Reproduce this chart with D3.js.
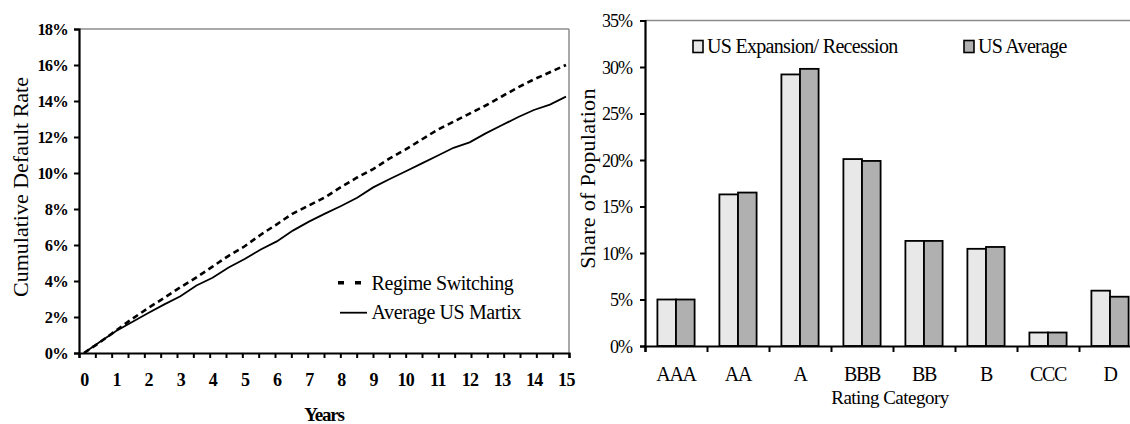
<!DOCTYPE html>
<html>
<head>
<meta charset="utf-8">
<script src="https://cdn.jsdelivr.net/npm/d3@7"></script>
<style>
  body { margin: 0; background: #fff; }
  svg { display: block; font-family: "Liberation Serif", "Times New Roman", serif; }
</style>
</head>
<body>
<svg id="chart" width="1130" height="424"></svg>
<script>
// ---------- Left chart data ----------
const years = [0, 0.5, 1, 1.5, 2, 2.5, 3, 3.5, 4, 4.5, 5, 5.5, 6, 6.5, 7, 7.5, 8, 8.5, 9, 9.5, 10, 10.5, 11, 11.5, 12, 12.5, 13, 13.5, 14, 14.5, 15];
const regimeSwitching = [0, 0.6, 1.25, 1.9, 2.5, 3.07, 3.65, 4.2, 4.8, 5.4, 5.93, 6.57, 7.15, 7.75, 8.2, 8.65, 9.22, 9.75, 10.22, 10.8, 11.3, 11.85, 12.4, 12.85, 13.3, 13.75, 14.25, 14.75, 15.2, 15.6, 16.0];
const averageUS = [0, 0.62, 1.22, 1.72, 2.22, 2.7, 3.15, 3.75, 4.18, 4.75, 5.22, 5.75, 6.2, 6.8, 7.3, 7.74, 8.17, 8.62, 9.2, 9.65, 10.08, 10.52, 10.96, 11.4, 11.7, 12.2, 12.65, 13.1, 13.5, 13.8, 14.24];
const yearLabels = [0, 1, 2, 3, 4, 5, 6, 7, 8, 9, 10, 11, 12, 13, 14, 15];
const leftYTicks = [0, 2, 4, 6, 8, 10, 12, 14, 16, 18];
const leftSeriesNames = ["Regime Switching", "Average US Martix"];

// ---------- Right chart data ----------
const ratings = ["AAA", "AA", "A", "BBB", "BB", "B", "CCC", "D"];
const usExpansionRecession = [5.0, 16.3, 29.2, 20.1, 11.3, 10.45, 1.45, 5.95];
const usAverage = [5.0, 16.5, 29.8, 19.9, 11.3, 10.65, 1.45, 5.3];
const rightYTicks = [0, 5, 10, 15, 20, 25, 30, 35];
const rightSeriesNames = ["US Expansion/ Recession", "US Average"];

const svg = d3.select("#chart");

// =================== LEFT CHART ===================
const L = { left: 79, right: 569, top: 29, bottom: 353 };
const yL = d3.scaleLinear().domain([0, 18]).range([L.bottom, L.top]);
const xL = d3.scaleLinear().domain([0, 15]).range([84, 566]);          // data + labels
const xTickL = d3.scaleLinear().domain([0, 30]).range([L.left, L.right]); // half-year tick marks

const gL = svg.append("g");

// frame (grey top & right)
gL.append("line").attr("x1", L.left).attr("x2", L.right).attr("y1", L.top).attr("y2", L.top)
  .attr("stroke", "#8c8c8c").attr("stroke-width", 1.5);
gL.append("line").attr("x1", L.right).attr("x2", L.right).attr("y1", L.top).attr("y2", L.bottom)
  .attr("stroke", "#8c8c8c").attr("stroke-width", 1.5);

// lines
const lineGen = (vals) => d3.line().x((d, i) => xL(years[i])).y(d => yL(d))(vals);
gL.append("path").attr("d", lineGen(averageUS)).attr("fill", "none")
  .attr("stroke", "#000").attr("stroke-width", 1.8);
gL.append("path").attr("d", lineGen(regimeSwitching)).attr("fill", "none")
  .attr("stroke", "#000").attr("stroke-width", 2.6).attr("stroke-dasharray", "6,4");

// y axis
const yAxisL = gL.append("g").attr("transform", `translate(${L.left},0)`)
  .call(d3.axisLeft(yL).tickValues(leftYTicks).tickSize(5).tickPadding(6).tickFormat(d => d + "%"));
yAxisL.select(".domain").attr("stroke", "#000").attr("stroke-width", 2.2);
yAxisL.selectAll(".tick line").attr("stroke", "#000").attr("stroke-width", 2);
yAxisL.selectAll(".tick text").attr("font-family", "Liberation Serif").attr("font-size", 16.5)
  .attr("font-weight", "bold").attr("letter-spacing", -0.8).attr("fill", "#000").attr("dy", "0.36em");

// x axis tick marks
const xTicksL = gL.append("g").attr("transform", `translate(0,${L.bottom})`)
  .call(d3.axisBottom(xTickL).tickValues(d3.range(0, 31)).tickSize(5).tickFormat(""));
xTicksL.select(".domain").attr("stroke", "#000").attr("stroke-width", 2.2);
xTicksL.selectAll(".tick line").attr("stroke", "#000").attr("stroke-width", 2);

// x labels
const xLabL = gL.append("g").attr("transform", `translate(0,${L.bottom})`)
  .call(d3.axisBottom(xL).tickValues(yearLabels).tickSize(0).tickPadding(20).tickFormat(d3.format("d")));
xLabL.select(".domain").remove();
xLabL.selectAll(".tick text").attr("font-family", "Liberation Serif").attr("font-size", 18)
  .attr("font-weight", "bold").attr("letter-spacing", -0.6).attr("fill", "#000");

// axis titles
gL.append("text").attr("transform", `translate(27.5,187) rotate(-90)`).attr("text-anchor", "middle")
  .attr("font-size", 22).attr("fill", "#000").text("Cumulative Default Rate");
gL.append("text").attr("x", 324).attr("y", 421).attr("text-anchor", "middle")
  .attr("font-size", 19).attr("font-weight", "bold").attr("letter-spacing", -1.2).attr("fill", "#000").text("Years");

// legend
const legL = gL.append("g");
legL.append("line").attr("x1", 338).attr("x2", 362).attr("y1", 282.7).attr("y2", 282.7)
  .attr("stroke", "#000").attr("stroke-width", 3.5).attr("stroke-dasharray", "6,11");
legL.append("text").attr("x", 371.5).attr("y", 289.5).attr("font-size", 20).attr("letter-spacing", -0.4)
  .attr("fill", "#000").text(leftSeriesNames[0]);
legL.append("line").attr("x1", 340).attr("x2", 367).attr("y1", 312.7).attr("y2", 312.7)
  .attr("stroke", "#000").attr("stroke-width", 1.8);
legL.append("text").attr("x", 371.5).attr("y", 319).attr("font-size", 20).attr("letter-spacing", -0.4)
  .attr("fill", "#000").text(leftSeriesNames[1]);

// =================== RIGHT CHART ===================
const R = { left: 645, right: 1141, top: 20.5, bottom: 346 };
const yR = d3.scaleLinear().domain([0, 35]).range([R.bottom, R.top]);
const xR = d3.scaleBand().domain(ratings).range([R.left, R.right]).paddingInner(0.4).paddingOuter(0.2);
const xSub = d3.scaleBand().domain([0, 1]).range([0, xR.bandwidth()]);
const xTickR = d3.scaleLinear().domain([0, ratings.length]).range([R.left, R.right]);
const fills = ["#e8e8e8", "#b0b0b0"];

const gR = svg.append("g");
gR.append("line").attr("x1", R.left).attr("x2", R.right).attr("y1", R.top).attr("y2", R.top)
  .attr("stroke", "#8c8c8c").attr("stroke-width", 1.5);
gR.append("line").attr("x1", R.right).attr("x2", R.right).attr("y1", R.top).attr("y2", R.bottom)
  .attr("stroke", "#8c8c8c").attr("stroke-width", 1.5);

const seriesR = [usExpansionRecession, usAverage];
seriesR.forEach((vals, s) => {
  gR.append("g").selectAll("rect").data(vals).join("rect")
    .attr("x", (d, i) => xR(ratings[i]) + xSub(s))
    .attr("width", xSub.bandwidth())
    .attr("y", d => yR(d))
    .attr("height", d => yR(0) - yR(d))
    .attr("fill", fills[s]).attr("stroke", "#000").attr("stroke-width", 1.8);
});

// y axis
const yAxisR = gR.append("g").attr("transform", `translate(${R.left},0)`)
  .call(d3.axisLeft(yR).tickValues(rightYTicks).tickSize(5).tickPadding(8).tickFormat(d => d + "%"));
yAxisR.select(".domain").attr("stroke", "#000").attr("stroke-width", 2.2);
yAxisR.selectAll(".tick line").attr("stroke", "#000").attr("stroke-width", 2);
yAxisR.selectAll(".tick text").attr("font-family", "Liberation Serif").attr("font-size", 18)
  .attr("letter-spacing", -1).attr("fill", "#000").attr("dy", "0.36em");

// x axis ticks
const xAxR = gR.append("g").attr("transform", `translate(0,${R.bottom})`)
  .call(d3.axisBottom(xTickR).tickValues(d3.range(0, ratings.length + 1)).tickSize(6).tickFormat(""));
xAxR.select(".domain").attr("stroke", "#000").attr("stroke-width", 2.2);
xAxR.selectAll(".tick line").attr("stroke", "#000").attr("stroke-width", 2);

// category labels
const xLabR = gR.append("g").attr("transform", `translate(0,${R.bottom})`)
  .call(d3.axisBottom(xR).tickSize(0).tickPadding(21));
xLabR.select(".domain").remove();
xLabR.selectAll(".tick text").attr("font-family", "Liberation Serif").attr("font-size", 20)
  .attr("letter-spacing", -1.3).attr("fill", "#000");

// titles
gR.append("text").attr("transform", `translate(595,178.5) rotate(-90)`).attr("text-anchor", "middle")
  .attr("font-size", 22).attr("letter-spacing", 0.3).attr("fill", "#000").text("Share of Population");
gR.append("text").attr("x", 890).attr("y", 404).attr("text-anchor", "middle")
  .attr("font-size", 19).attr("letter-spacing", -0.5).attr("fill", "#000").text("Rating Category");

// legend
const legRX = [693, 964];
rightSeriesNames.forEach((name, s) => {
  gR.append("rect").attr("x", legRX[s]).attr("y", 40.5).attr("width", 10).attr("height", 12)
    .attr("fill", fills[s]).attr("stroke", "#000").attr("stroke-width", 1.6);
  gR.append("text").attr("x", legRX[s] + 14).attr("y", 53).attr("font-size", 20)
    .attr("letter-spacing", -0.7).attr("fill", "#000").text(name);
});
</script>
</body>
</html>
